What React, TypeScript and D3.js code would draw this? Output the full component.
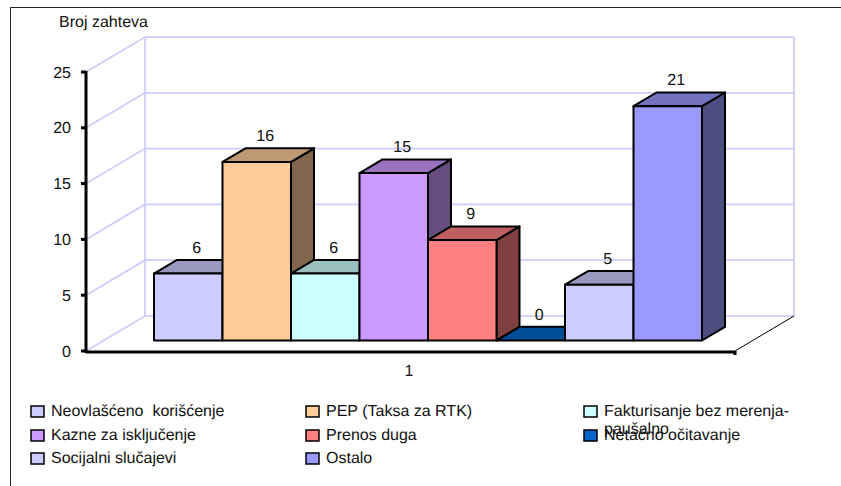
import * as d3 from 'd3'

const seriesNames = [
  'Neovlašćeno  korišćenje',
  'PEP (Taksa za RTK)',
  'Fakturisanje bez merenja-paušalno',
  'Kazne za isključenje',
  'Prenos duga',
  'Netačno očitavanje',
  'Socijalni slučajevi',
  'Ostalo',
]
const seriesValues = [6, 16, 6, 15, 9, 0, 5, 21]
const seriesColors = ['#ccccff', '#ffcc99', '#ccffff', '#cc99ff', '#ff8080', '#0066cc', '#ccccff', '#9999ff']
const yTicks = [0, 5, 10, 15, 20, 25]
const categories = ['1']

const width = 841
const height = 486
const font = '"Liberation Sans", Arial, sans-serif'

// 3D look: wall sits behind the front axis plane by this offset
const depthX = 59
const depthY = 35
const barFront = 0.3
const barBack = 0.69

const axisLeft = 86
const axisRight = 735
const y = d3.scaleLinear().domain([0, 25]).range([351, 72])
const xCat = d3.scaleBand().domain(categories).range([axisLeft, axisRight])
const xBar = d3.scaleBand().domain(seriesNames).range([136.3, 684.3])

const px = (x: number, depth: number) => x + depth * depthX
const py = (v: number, depth: number) => y(v) - depth * depthY

const poly = (pts: [number, number][]) => d3.line()(pts) + 'Z'

function shade(color: string, k: number) {
  const c = d3.rgb(color)
  return d3.rgb(c.r * k, c.g * k, c.b * k).formatHex()
}

const legendCols = [31, 306, 584]
const legendRows = [411.5, 435.5, 458.5]

export default function App() {
  const wallLeft = px(axisLeft, 1)
  const wallRight = px(axisRight, 1)

  return (
    <svg
      width={width}
      height={height}
      style={{ position: 'absolute', left: 0, top: 0, background: '#fff' }}
      fontFamily={font}
      fontSize={16}
      fill="#111"
      textRendering="geometricPrecision"
    >
      {/* frame, cut off by the picture on the right and bottom */}
      <path d={`M10.5,${height}V7.5H${width}`} fill="none" stroke="#222" strokeWidth={1} />

      <text x={59} y={27}>Broj zahteva</text>

      {/* walls */}
      <g stroke="#ccccff" strokeWidth={1.75} fill="none">
        {yTicks.map(t => (
          <path
            key={t}
            d={`M${axisLeft},${y(t)}L${wallLeft},${py(t, 1)}H${wallRight}`}
          />
        ))}
        <line x1={wallLeft} x2={wallLeft} y1={py(0, 1)} y2={py(25, 1)} />
        <line x1={wallRight} x2={wallRight} y1={py(0, 1)} y2={py(25, 1)} />
      </g>
      <line x1={axisRight} y1={y(0)} x2={wallRight} y2={py(0, 1)} stroke="#000" strokeWidth={1} />

      {/* bars, left to right so later ones cover earlier sides */}
      <g stroke="#000" strokeWidth={2} strokeLinejoin="round">
        {seriesNames.map((name, i) => {
          const v = seriesValues[i]
          const color = seriesColors[i]
          const x0 = xBar(name)!
          const x1 = x0 + xBar.bandwidth()
          return (
            <g key={name}>
              <path
                d={poly([
                  [px(x1, barFront), py(0, barFront)],
                  [px(x1, barBack), py(0, barBack)],
                  [px(x1, barBack), py(v, barBack)],
                  [px(x1, barFront), py(v, barFront)],
                ])}
                fill={shade(color, 0.5)}
              />
              <path
                d={poly([
                  [px(x0, barFront), py(v, barFront)],
                  [px(x0, barBack), py(v, barBack)],
                  [px(x1, barBack), py(v, barBack)],
                  [px(x1, barFront), py(v, barFront)],
                ])}
                fill={shade(color, 0.75)}
              />
              {v > 0 && (
                <rect
                  x={px(x0, barFront)}
                  y={py(v, barFront)}
                  width={xBar.bandwidth()}
                  height={py(0, barFront) - py(v, barFront)}
                  fill={color}
                />
              )}
            </g>
          )
        })}
      </g>

      {/* value labels */}
      <g textAnchor="middle">
        {seriesNames.map((name, i) => (
          <text
            key={name}
            x={px(xBar(name)! + xBar.bandwidth() / 2, barFront) + 8.5}
            y={py(seriesValues[i], barBack) - 7}
          >
            {seriesValues[i]}
          </text>
        ))}
      </g>

      {/* axes */}
      <g stroke="#000" fill="none">
        <line x1={axisLeft} x2={axisLeft} y1={y(25) - 1} y2={y(0) + 2} strokeWidth={3} />
        <line x1={axisLeft} x2={axisRight} y1={y(0) + 1} y2={y(0) + 1} strokeWidth={3} />
        {yTicks.map(t => (
          <line key={t} x1={axisLeft - 5} x2={axisLeft} y1={y(t)} y2={y(t)} strokeWidth={3} />
        ))}
        <line x1={axisRight} x2={axisRight} y1={y(0)} y2={y(0) + 4} strokeWidth={3} />
      </g>
      <g textAnchor="end">
        {yTicks.map(t => (
          <text key={t} x={71} y={y(t) + 5.5}>{t}</text>
        ))}
      </g>
      {categories.map(c => (
        <text key={c} x={xCat(c)! + xCat.bandwidth() / 2 - 1.5} y={376} textAnchor="middle">{c}</text>
      ))}

      {/* legend, filled row by row; the long entry wraps and runs into the next row */}
      <g>
        {seriesNames.map((name, i) => {
          const lx = legendCols[i % 3]
          const ly = legendRows[Math.floor(i / 3)]
          const wrapped = name.endsWith('-paušalno')
          return (
            <g key={name}>
              <rect x={lx} y={ly - 5.5} width={13} height={11} fill={seriesColors[i]} stroke="#000" strokeWidth={1.5} />
              {wrapped ? (
                <>
                  <text x={lx + 20} y={ly + 4.5}>Fakturisanje bez merenja-</text>
                  <text x={lx + 20} y={ly + 22}>paušalno</text>
                </>
              ) : (
                <text x={lx + 20} y={ly + 4.5}>{name.replace('  ', ' \u00a0')}</text>
              )}
            </g>
          )
        })}
      </g>
    </svg>
  )
}
